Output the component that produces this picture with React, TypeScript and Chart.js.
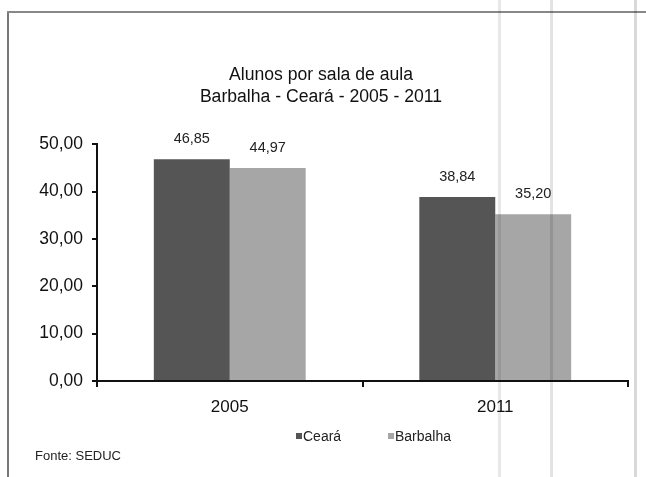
import React, { useEffect, useRef } from "react";
import { Chart, registerables } from "chart.js";

Chart.register(...registerables);

const categories = ["2005", "2011"];
const seriesNames = ["Ceará", "Barbalha"];
const cearaValues = [46.85, 38.84];
const barbalhaValues = [44.97, 35.2];
const seriesColors = ["#555555", "#a6a6a6"];
const titleLines = ["Alunos por sala de aula", "Barbalha - Ceará - 2005 - 2011"];
const sourceNote = "Fonte: SEDUC";

const FONT = "'Liberation Sans', Arial, sans-serif";
const fmt = (v: number) => v.toFixed(2).replace(".", ",");

const valueLabels = {
  id: "valueLabels",
  afterDatasetsDraw(chart: any) {
    const ctx = chart.ctx;
    ctx.save();
    ctx.font = `14.5px ${FONT}`;
    ctx.fillStyle = "#222";
    ctx.textAlign = "center";
    ctx.textBaseline = "middle";
    chart.data.datasets.forEach((ds: any, i: number) => {
      const meta = chart.getDatasetMeta(i);
      meta.data.forEach((bar: any, j: number) => {
        ctx.fillText(fmt(ds.data[j]), bar.x, bar.y - 20);
      });
    });
    ctx.restore();
  },
};

export default function App() {
  const ref = useRef<HTMLCanvasElement | null>(null);
  useEffect(() => {
    if (!ref.current) return;
    const chart = new Chart(ref.current, {
      type: "bar",
      data: {
        labels: categories,
        datasets: [
          { label: seriesNames[0], data: cearaValues, backgroundColor: seriesColors[0], categoryPercentage: 0.572, barPercentage: 1 },
          { label: seriesNames[1], data: barbalhaValues, backgroundColor: seriesColors[1], categoryPercentage: 0.572, barPercentage: 1 },
        ],
      },
      options: {
        responsive: false,
        animation: false,
        layout: { padding: { top: 0, right: 18, bottom: 0, left: 14 } },
        plugins: {
          legend: { display: false },
          tooltip: { enabled: false },
          title: {
            display: true,
            text: titleLines,
            color: "#111",
            font: { family: FONT, size: 17.6, weight: "normal", lineHeight: 1.2 },
            padding: { top: 65, bottom: 37 },
          },
        },
        scales: {
          x: {
            afterFit: (s: any) => { s.height = 96; },
            border: { display: true, color: "#111", width: 2 },
            grid: { display: true, offset: true, drawOnChartArea: false, drawTicks: true, tickLength: 6, color: "#111", lineWidth: 2 },
            ticks: { color: "#111", font: { family: FONT, size: 17 }, padding: 10 },
          },
          y: {
            min: 0,
            max: 50,
            afterFit: (s: any) => { s.width = 83; },
            border: { display: true, color: "#111", width: 2 },
            grid: { display: true, drawOnChartArea: false, drawTicks: true, tickLength: 5, color: "#111", lineWidth: 2 },
            ticks: { stepSize: 10, color: "#111", font: { family: FONT, size: 17.5 }, padding: 9, callback: (v: any) => fmt(Number(v)) },
          },
        },
      },
      plugins: [valueLabels],
    });
    return () => chart.destroy();
  }, []);

  const legendItems = [
    { name: seriesNames[0], color: seriesColors[0], left: 296 },
    { name: seriesNames[1], color: seriesColors[1], left: 388 },
  ];

  return (
    <div style={{ position: "fixed", left: 0, top: 0, width: 646, height: 477, background: "#fff", overflow: "hidden" }}>
      <canvas ref={ref} width={646} height={477} style={{ position: "absolute", left: 0, top: 0, width: 646, height: 477 }} />
      <div style={{ position: "absolute", left: 7, top: 12, width: 2, height: 470, background: "#777" }} />
      <div style={{ position: "absolute", left: 7, top: 11, width: 639, height: 2, background: "#888" }} />
      <div style={{ position: "absolute", left: 498, top: 0, width: 3, height: 477, background: "rgba(0,0,0,0.09)" }} />
      <div style={{ position: "absolute", left: 550, top: 0, width: 3, height: 477, background: "rgba(0,0,0,0.11)" }} />
      <div style={{ position: "absolute", left: 634, top: 0, width: 3, height: 477, background: "rgba(0,0,0,0.15)" }} />
      {legendItems.map((it) => (
        <div key={it.name} style={{ position: "absolute", left: it.left, top: 427, height: 18, display: "flex", alignItems: "center", fontFamily: FONT, fontSize: 14, color: "#222", whiteSpace: "nowrap" }}>
          <span style={{ display: "inline-block", width: 6, height: 6, background: it.color, marginRight: 1 }} />
          <span>{it.name}</span>
        </div>
      ))}
      <div style={{ position: "absolute", left: 35, top: 448, fontFamily: FONT, fontSize: 13, color: "#222", whiteSpace: "nowrap" }}>{sourceNote}</div>
    </div>
  );
}
